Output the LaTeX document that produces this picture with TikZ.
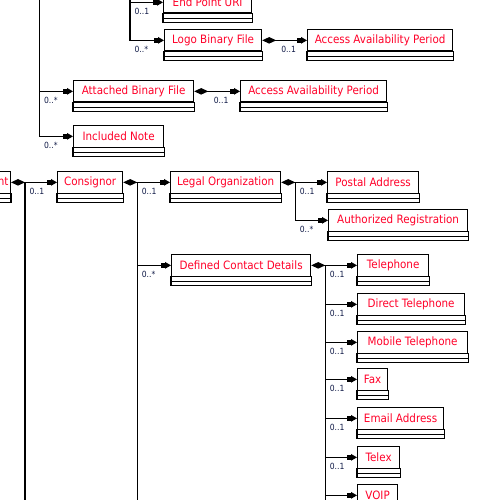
\documentclass[tikz,border=0pt]{standalone}
\usepackage{fontspec}
\setmainfont{DejaVu Sans}[FakeStretch = 0.9]
\usetikzlibrary{arrows.meta}
\definecolor{classred}{RGB}{255,0,40}
\definecolor{multblue}{RGB}{15,25,70}
\begin{document}
\begin{tikzpicture}[x = 1pt, y = -1pt, line width = 1.2pt,
        umlclass/.style = {draw, anchor = north west, minimum height = 21.5pt, inner xsep = 0pt,
            text = classred, font = \fontsize{11.5}{13}\selectfont},
        comp/.style = {{Diamond[length = 14pt, width = 6.5pt]}-{Rectangle[length = 4pt, width = 5pt]Triangle[length = 6pt, width = 6.5pt]}},
        assoc/.style = {-{Rectangle[length = 4pt, width = 5pt]Triangle[length = 6pt, width = 6.5pt]}},
        multlabel/.style = {anchor = north west, xshift = 4pt, yshift = -5pt, inner sep = 0pt,
            text = multblue, font = \fontsize{8.5}{10}\selectfont}]
    \useasboundingbox (0, 0) rectangle (500, 500);
    \clip (0, 0) rectangle (500, 500);
        % classes
        \node[umlclass, minimum width = 88pt] (epuri) at (163, -9) {End Point URI};
        \node[umlclass, minimum width = 97pt] (logo) at (164, 29) {Logo Binary File};
        \node[umlclass, minimum width = 145pt] (logoperiod) at (307, 29) {Access Availability Period};
        \node[umlclass, minimum width = 120pt] (attached) at (73, 80) {Attached Binary File};
        \node[umlclass, minimum width = 146pt] (attachedperiod) at (240, 80) {Access Availability Period};
        \node[umlclass, minimum width = 90pt] (note) at (73, 125) {Included Note};
        \node[umlclass, inner xsep = 2pt, anchor = north east] (consignment) at (11, 171) {Consignment};
        \node[umlclass, minimum width = 65pt] (consignor) at (57, 171) {Consignor};
        \node[umlclass, minimum width = 110pt] (legal) at (170, 171) {Legal Organization};
        \node[umlclass, minimum width = 91pt] (postal) at (327, 171) {Postal Address};
        \node[umlclass, minimum width = 139pt] (registration) at (328, 209) {Authorized Registration};
        \node[umlclass, minimum width = 139pt] (contact) at (171, 254) {Defined Contact Details};
        \node[umlclass, minimum width = 71pt] (telephone) at (357, 254) {Telephone};
        \node[umlclass, minimum width = 107pt] (direct) at (357, 293) {Direct Telephone};
        \node[umlclass, minimum width = 110pt] (mobile) at (357, 331) {Mobile Telephone};
        \node[umlclass, minimum width = 30pt] (fax) at (357, 368) {Fax};
        \node[umlclass, minimum width = 86pt] (email) at (357, 407) {Email Address};
        \node[umlclass, minimum width = 42pt] (telex) at (357, 446) {Telex};
        \node[umlclass, minimum width = 40pt] (voip) at (357, 484) {VOIP};
        % empty compartments
        \foreach \c in {epuri, logo, logoperiod, attached, attachedperiod, note, consignment, consignor,
                legal, postal, registration, contact, telephone, direct, mobile, fax, email, telex, voip} {
            \draw (\c.south west) rectangle ([yshift = -9pt]\c.south east);
            \draw ([yshift = -4.5pt]\c.south west) -- ([yshift = -4.5pt]\c.south east);
        }
        % forks
        \coordinate (topfork) at (39.5, -20);
        \coordinate (urifork) at (130, -20);
        \coordinate (consignmentfork) at ([xshift = 14pt]consignment.east);
        \coordinate (consignorfork) at ([xshift = 14pt]consignor.east);
        \coordinate (legalfork) at ([xshift = 14pt]legal.east);
        \coordinate (contactfork) at ([xshift = 14pt]contact.east);
        % connectors
        \draw[assoc] (urifork) |- (epuri.west) node[pos = 0.5, multlabel] {0..1};
        \draw[assoc] (urifork) |- (logo.west) node[pos = 0.5, multlabel] {0..*};
        \draw[comp] (logo.east) -- (logoperiod.west)
            node[midway, multlabel, anchor = north, xshift = 0pt] {0..1};
        \draw[assoc] (topfork) |- (attached.west) node[pos = 0.5, multlabel] {0..*};
        \draw[comp] (attached.east) -- (attachedperiod.west)
            node[midway, multlabel, anchor = north, xshift = 0pt] {0..1};
        \draw[assoc] (topfork) |- (note.west) node[pos = 0.5, multlabel] {0..*};
        \draw[comp] (consignment.east) -- (consignor.west);
        \node[multlabel] at (consignmentfork) {0..1};
        \draw (consignmentfork) -- ([yshift = -340pt]consignmentfork);
        \draw[comp] (consignor.east) -- (legal.west);
        \node[multlabel] at (consignorfork) {0..1};
        \draw (consignorfork) -- ([yshift = -340pt]consignorfork);
        \draw[assoc] (consignorfork) |- (contact.west) node[pos = 0.5, multlabel] {0..*};
        \draw[comp] (legal.east) -- (postal.west);
        \node[multlabel] at (legalfork) {0..1};
        \draw[assoc] (legalfork) |- (registration.west) node[pos = 0.5, multlabel] {0..*};
        \draw[comp] (contact.east) -- (telephone.west);
        \node[multlabel] at (contactfork) {0..1};
        \draw (contactfork) -- ([yshift = -260pt]contactfork);
        \draw[assoc] (contactfork) |- (direct.west) node[pos = 0.5, multlabel] {0..1};
        \draw[assoc] (contactfork) |- (mobile.west) node[pos = 0.5, multlabel] {0..1};
        \draw[assoc] (contactfork) |- (fax.west) node[pos = 0.5, multlabel] {0..1};
        \draw[assoc] (contactfork) |- (email.west) node[pos = 0.5, multlabel] {0..1};
        \draw[assoc] (contactfork) |- (telex.west) node[pos = 0.5, multlabel] {0..1};
        \draw[assoc] (contactfork) |- (voip.west);
    \end{tikzpicture}
\end{document}
